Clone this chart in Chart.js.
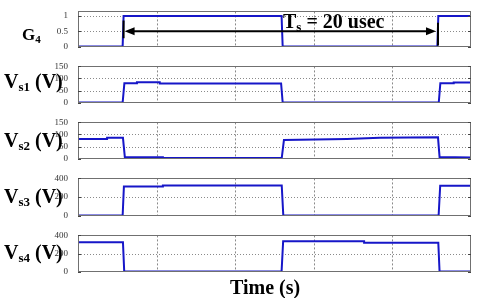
<!DOCTYPE html>
<html>
<head>
<meta charset="utf-8">
<script src="https://cdn.jsdelivr.net/npm/chart.js@4.4.1/dist/chart.umd.min.js"></script>
<style>
  body { margin: 0; background: #fff; width: 480px; height: 298px; overflow: hidden; position: relative;
         font-family: "Liberation Serif", "Times New Roman", serif; }
  .panel { position: absolute; left: 0; width: 480px; }
  .lbl { position: absolute; font-weight: bold; color: #000; white-space: nowrap; line-height: 1; }
  .lbl sub { font-size: 0.65em; line-height: 0; vertical-align: -0.25em; }
  .vs { font-size: 20px; }
</style>
</head>
<body>
<div class="panel" id="p1" style="top:4px;height:50px"><canvas id="c1"></canvas></div>
<div class="panel" id="p2" style="top:59px;height:51px"><canvas id="c2"></canvas></div>
<div class="panel" id="p3" style="top:115px;height:51px"><canvas id="c3"></canvas></div>
<div class="panel" id="p4" style="top:171px;height:52px"><canvas id="c4"></canvas></div>
<div class="panel" id="p5" style="top:228px;height:51px"><canvas id="c5"></canvas></div>

<div class="lbl" style="left:22px;top:26px;font-size:17px">G<sub>4</sub></div>
<div class="lbl vs" style="left:4px;top:71px">V<sub>s1</sub> (V)</div>
<div class="lbl vs" style="left:4px;top:130px">V<sub>s2</sub> (V)</div>
<div class="lbl vs" style="left:4px;top:186px">V<sub>s3</sub> (V)</div>
<div class="lbl vs" style="left:4px;top:242px">V<sub>s4</sub> (V)</div>
<div class="lbl" style="left:283px;top:11px;font-size:20px">T<sub>s</sub> = 20 usec</div>
<div class="lbl" style="left:230px;top:277px;font-size:20px">Time (s)</div>

<script>
// time axis in microseconds
const timeMin = 0;
const timeMax = 25;
const timeGrid = [0, 5, 10, 15, 20, 25];

// gate signal G4
const g4Time = [0, 2.84, 2.9, 12.95, 13.02, 22.86, 22.92, 25];
const g4Val  = [0, 0, 1, 1, 0, 0, 1, 1];

// switch voltages (V)
const vs1Time = [0, 2.84, 2.95, 3.75, 3.75, 5.2, 5.2, 12.92, 13.02, 22.95, 23.05, 23.9, 23.9, 25];
const vs1Val  = [0, 0, 80, 80, 84, 84, 79, 79, 0, 0, 80, 80, 83, 83];

const vs2Time = [0, 1.85, 1.85, 2.86, 2.98, 5.4, 5.4, 12.96, 13.1, 17.1, 19.2, 22.9, 23.0, 25];
const vs2Val  = [81, 81, 86, 86, 6, 6, 2, 2, 77, 81, 86, 88, 7, 5];

const vs3Time = [0, 2.84, 2.92, 5.4, 5.4, 12.96, 13.06, 22.94, 23.04, 25];
const vs3Val  = [0, 0, 312, 312, 325, 325, 0, 0, 320, 320];

const vs4Time = [0, 2.86, 2.94, 12.95, 13.05, 18.2, 18.2, 22.92, 23.0, 25];
const vs4Val  = [325, 325, 0, 0, 335, 335, 320, 320, 0, 0];

// y ticks per panel
const g4Ticks = [0, 0.5, 1];
const vsLowTicks = [0, 50, 100, 150];
const vsHighTicks = [0, 200, 400];

// Ts annotation (usec, G4 units)
const arrowFrom = 2.9;
const arrowTo = 22.9;
const arrowLevel = 0.5;

const lineBlue = '#1616c8';

// scope style grid: dashed verticals, dotted horizontals, grey frame
const gridPlugin = {
    id: 'scopeGrid',
    beforeDatasetsDraw(chart) {
        const a = chart.chartArea, ctx = chart.ctx;
        const xs = chart.scales.x, ys = chart.scales.y;
        ctx.save();
        ctx.lineWidth = 1;
        ctx.strokeStyle = '#8a8a8a';
        ctx.setLineDash([2, 2]);
        xs.ticks.forEach(t => {
            if (t.value <= xs.min || t.value >= xs.max) return;
            const px = Math.round(xs.getPixelForValue(t.value)) + 0.5;
            ctx.beginPath(); ctx.moveTo(px, a.top); ctx.lineTo(px, a.bottom); ctx.stroke();
        });
        ctx.setLineDash([1, 2]);
        ys.ticks.forEach(t => {
            if (t.value <= ys.min || t.value >= ys.max) return;
            const py = Math.round(ys.getPixelForValue(t.value)) + 0.5;
            ctx.beginPath(); ctx.moveTo(a.left, py); ctx.lineTo(a.right, py); ctx.stroke();
        });
        ctx.restore();
    },
    afterDraw(chart) {
        const a = chart.chartArea, ctx = chart.ctx, ys = chart.scales.y;
        ctx.save();
        ctx.strokeStyle = '#707070';
        ctx.lineWidth = 1;
        ctx.strokeRect(Math.round(a.left) + 0.5, Math.round(a.top) + 0.5,
                       Math.round(a.right - a.left) - 1, Math.round(a.bottom - a.top));
        // small tick marks on both sides
        ctx.strokeStyle = '#444';
        ys.ticks.forEach(t => {
            const py = Math.round(ys.getPixelForValue(t.value)) + 0.5;
            ctx.beginPath();
            ctx.moveTo(a.left, py); ctx.lineTo(a.left + 3, py);
            ctx.moveTo(a.right - 3, py); ctx.lineTo(a.right, py);
            ctx.stroke();
        });
        ctx.restore();
    }
};

const arrowPlugin = {
    id: 'tsArrow',
    afterDatasetsDraw(chart) {
        const x = chart.scales.x, y = chart.scales.y, ctx = chart.ctx;
        const x1 = x.getPixelForValue(arrowFrom), x2 = x.getPixelForValue(arrowTo);
        const yy = y.getPixelForValue(arrowLevel);
        ctx.save();
        ctx.strokeStyle = '#000';
        ctx.fillStyle = '#000';
        ctx.lineWidth = 2;
        // markers at the switching edges
        ctx.beginPath();
        ctx.moveTo(x1, y.getPixelForValue(0.85)); ctx.lineTo(x1, y.getPixelForValue(0.27));
        ctx.moveTo(x2, y.getPixelForValue(0.78)); ctx.lineTo(x2, y.getPixelForValue(0.04));
        ctx.stroke();
        ctx.beginPath();
        ctx.moveTo(x1 + 8, yy); ctx.lineTo(x2 - 8, yy);
        ctx.stroke();
        ctx.beginPath();
        ctx.moveTo(x1 + 1, yy); ctx.lineTo(x1 + 11, yy - 4); ctx.lineTo(x1 + 11, yy + 4); ctx.closePath();
        ctx.moveTo(x2 - 2, yy); ctx.lineTo(x2 - 12, yy - 4); ctx.lineTo(x2 - 12, yy + 4); ctx.closePath();
        ctx.fill();
        ctx.restore();
    }
};

function makePanel(canvasId, times, values, yMax, yTicks, plugins) {
    const ctx = document.getElementById(canvasId).getContext('2d');
    return new Chart(ctx, {
        type: 'line',
        data: {
            datasets: [{
                data: times.map((t, i) => ({ x: t, y: values[i] })),
                borderColor: lineBlue,
                borderWidth: 2,
                pointRadius: 0,
                tension: 0,
            }],
        },
        options: {
            responsive: true,
            maintainAspectRatio: false,
            animation: false,
            events: [],
            layout: { padding: { left: 48, right: 9, top: 6, bottom: 6 } },
            plugins: { legend: { display: false }, tooltip: { enabled: false } },
            scales: {
                x: {
                    type: 'linear',
                    min: timeMin,
                    max: timeMax,
                    afterBuildTicks: s => { s.ticks = timeGrid.map(v => ({ value: v })); },
                    afterFit: s => { s.height = 0; },
                    ticks: { display: false },
                    border: { display: false },
                    grid: { display: false },
                },
                y: {
                    type: 'linear',
                    min: 0,
                    max: yMax,
                    afterBuildTicks: s => { s.ticks = yTicks.map(v => ({ value: v })); },
                    afterFit: s => { s.width = 30; },
                    border: { display: false },
                    grid: { display: false },
                    ticks: {
                        autoSkip: false,
                        color: '#333',
                        padding: 2,
                        font: { family: 'Liberation Serif', size: 9 },
                        callback: v => String(v),
                    },
                },
            },
        },
        plugins: [gridPlugin].concat(plugins || []),
    });
}

function init() {
    makePanel('c1', g4Time, g4Val, 1.15, g4Ticks, [arrowPlugin]);
    makePanel('c2', vs1Time, vs1Val, 150, vsLowTicks);
    makePanel('c3', vs2Time, vs2Val, 150, vsLowTicks);
    makePanel('c4', vs3Time, vs3Val, 400, vsHighTicks);
    makePanel('c5', vs4Time, vs4Val, 400, vsHighTicks);
}

document.addEventListener('DOMContentLoaded', init);
</script>
</body>
</html>
